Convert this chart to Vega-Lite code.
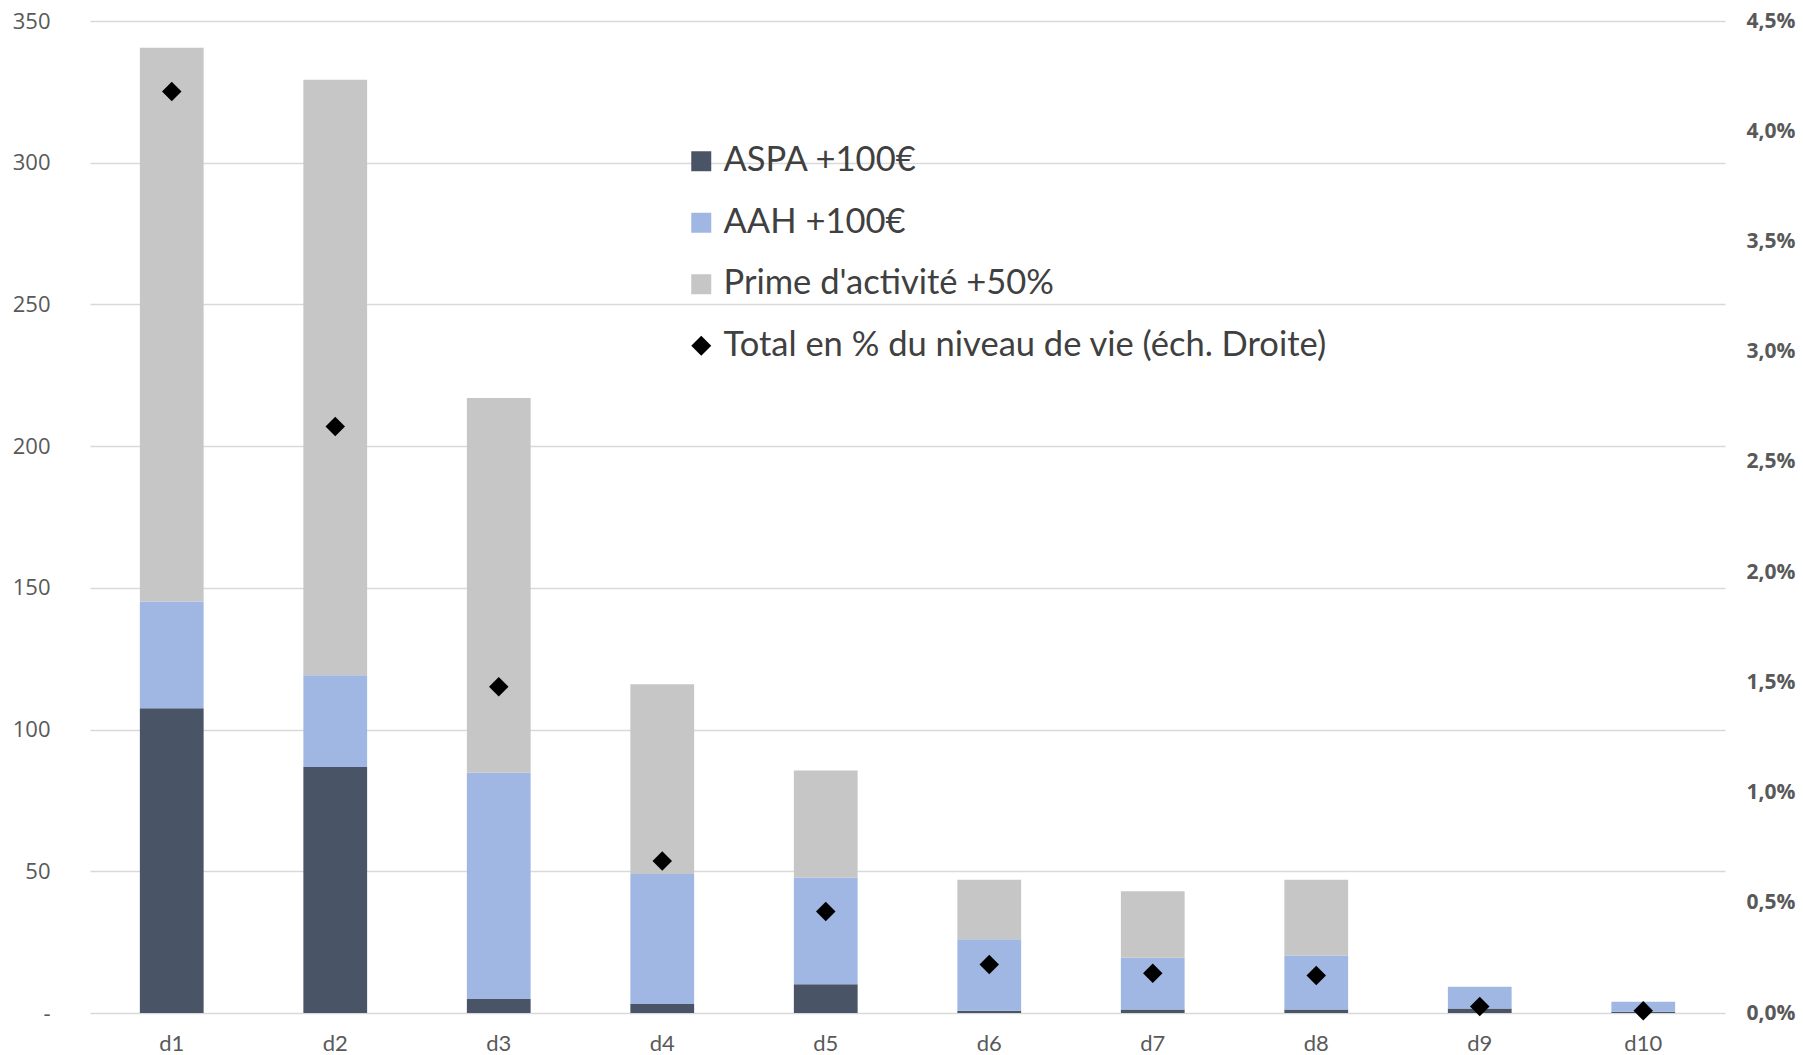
{
  "$schema": "https://vega.github.io/schema/vega-lite/v6.json",
  "width": 1635,
  "height": 992,
  "autosize": {"type": "none"},
  "padding": {"left": 90, "top": 21, "right": 78, "bottom": 42},
  "background": "white",
  "config": {"view": {"stroke": null}},
  "datasets": {
    "bars": [
      {"decile": "d1", "serie": "ASPA +100€", "ord": 1, "value": 107.5},
      {"decile": "d1", "serie": "AAH +100€", "ord": 2, "value": 37.7},
      {"decile": "d1", "serie": "Prime d'activité +50%", "ord": 3, "value": 195.4},
      {"decile": "d2", "serie": "ASPA +100€", "ord": 1, "value": 86.8},
      {"decile": "d2", "serie": "AAH +100€", "ord": 2, "value": 32.4},
      {"decile": "d2", "serie": "Prime d'activité +50%", "ord": 3, "value": 210.1},
      {"decile": "d3", "serie": "ASPA +100€", "ord": 1, "value": 4.9},
      {"decile": "d3", "serie": "AAH +100€", "ord": 2, "value": 79.9},
      {"decile": "d3", "serie": "Prime d'activité +50%", "ord": 3, "value": 132.2},
      {"decile": "d4", "serie": "ASPA +100€", "ord": 1, "value": 3.2},
      {"decile": "d4", "serie": "AAH +100€", "ord": 2, "value": 45.8},
      {"decile": "d4", "serie": "Prime d'activité +50%", "ord": 3, "value": 67.0},
      {"decile": "d5", "serie": "ASPA +100€", "ord": 1, "value": 10.1},
      {"decile": "d5", "serie": "AAH +100€", "ord": 2, "value": 37.7},
      {"decile": "d5", "serie": "Prime d'activité +50%", "ord": 3, "value": 37.8},
      {"decile": "d6", "serie": "ASPA +100€", "ord": 1, "value": 0.8},
      {"decile": "d6", "serie": "AAH +100€", "ord": 2, "value": 25.2},
      {"decile": "d6", "serie": "Prime d'activité +50%", "ord": 3, "value": 21.0},
      {"decile": "d7", "serie": "ASPA +100€", "ord": 1, "value": 1.2},
      {"decile": "d7", "serie": "AAH +100€", "ord": 2, "value": 18.3},
      {"decile": "d7", "serie": "Prime d'activité +50%", "ord": 3, "value": 23.5},
      {"decile": "d8", "serie": "ASPA +100€", "ord": 1, "value": 1.2},
      {"decile": "d8", "serie": "AAH +100€", "ord": 2, "value": 19.1},
      {"decile": "d8", "serie": "Prime d'activité +50%", "ord": 3, "value": 26.7},
      {"decile": "d9", "serie": "ASPA +100€", "ord": 1, "value": 1.6},
      {"decile": "d9", "serie": "AAH +100€", "ord": 2, "value": 7.7},
      {"decile": "d9", "serie": "Prime d'activité +50%", "ord": 3, "value": 0.0},
      {"decile": "d10", "serie": "ASPA +100€", "ord": 1, "value": 0.4},
      {"decile": "d10", "serie": "AAH +100€", "ord": 2, "value": 3.6},
      {"decile": "d10", "serie": "Prime d'activité +50%", "ord": 3, "value": 0.0}
    ],
    "pts": [
      {"decile": "d1", "pct": 0.0418},
      {"decile": "d2", "pct": 0.0266},
      {"decile": "d3", "pct": 0.0148},
      {"decile": "d4", "pct": 0.0069},
      {"decile": "d5", "pct": 0.0046},
      {"decile": "d6", "pct": 0.0022},
      {"decile": "d7", "pct": 0.0018},
      {"decile": "d8", "pct": 0.0017},
      {"decile": "d9", "pct": 0.0003},
      {"decile": "d10", "pct": 0.0001}
    ]
  },
  "encoding": {
    "x": {
      "field": "decile",
      "type": "nominal",
      "sort": ["d1","d2","d3","d4","d5","d6","d7","d8","d9","d10"],
      "scale": {"paddingInner": 0.61, "paddingOuter": 0.305},
      "axis": {
        "title": null,
        "labelAngle": 0,
        "domain": false,
        "ticks": false,
        "labelFont": "Lato",
        "labelFontSize": 22,
        "labelColor": "#595959",
        "labelPadding": 20
      }
    }
  },
  "layer": [
    {
      "data": {"name": "bars"},
      "mark": {"type": "bar", "opacity": 1},
      "encoding": {
        "y": {
          "field": "value",
          "type": "quantitative",
          "aggregate": "sum",
          "stack": "zero",
          "scale": {"domain": [0, 350], "nice": false},
          "axis": {
            "title": null,
            "values": [0, 50, 100, 150, 200, 250, 300, 350],
            "labelExpr": "datum.value === 0 ? '-' : datum.label",
            "domain": false,
            "ticks": false,
            "grid": true,
            "gridColor": "#D9D9D9",
            "gridWidth": 1.5,
            "labelFont": "Open Sans",
            "labelFontSize": 22,
            "labelColor": "#595959",
            "labelPadding": 40
          }
        },
        "order": {"field": "ord", "type": "quantitative"},
        "color": {
          "field": "serie",
          "type": "nominal",
          "scale": {
            "domain": ["ASPA +100€", "AAH +100€", "Prime d'activité +50%", "Total en % du niveau de vie (éch. Droite)"],
            "range": ["#4A5467", "#A0B7E3", "#C6C6C6", "#000000"]
          },
          "legend": {
            "title": null,
            "orient": "none",
            "legendX": 594,
            "legendY": 123,
            "symbolType": "square",
            "symbolSize": 400,
            "symbolStrokeWidth": 0,
            "symbolOpacity": 1,
            "labelFont": "Lato",
            "labelFontSize": 34.5,
            "labelColor": "#404040",
            "labelOffset": 5,
            "rowPadding": 26.5,
            "labelLimit": 1000,
            "encode": {
              "symbols": {
                "update": {
                  "shape": {"signal": "indexof(datum.label, 'Total') === 0 ? 'diamond' : 'square'"}
                }
              }
            }
          }
        }
      }
    },
    {
      "data": {"name": "pts"},
      "mark": {"type": "point", "shape": "diamond", "filled": true, "size": 380, "opacity": 1},
      "encoding": {
        "y": {
          "field": "pct",
          "type": "quantitative",
          "scale": {"domain": [0, 0.045], "nice": false},
          "axis": {
            "orient": "right",
            "title": null,
            "values": [0, 0.005, 0.01, 0.015, 0.02, 0.025, 0.03, 0.035, 0.04, 0.045],
            "labelExpr": "replace(format(datum.value, '.1%'), '.', ',')",
            "domain": false,
            "ticks": false,
            "grid": false,
            "labelFont": "Open Sans",
            "labelFontSize": 21,
            "labelFontWeight": "bold",
            "labelColor": "#595959",
            "labelPadding": 21
          }
        },
        "color": {"datum": "Total en % du niveau de vie (éch. Droite)"}
      }
    }
  ],
  "resolve": {"scale": {"y": "independent"}}
}
